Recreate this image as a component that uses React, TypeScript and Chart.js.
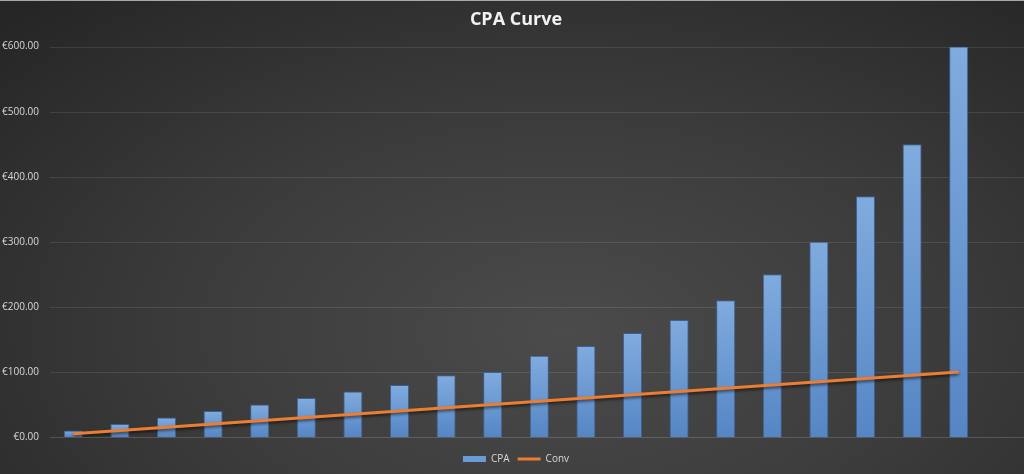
import React, { useEffect, useRef } from "react";
import { Chart, registerables } from "chart.js";

Chart.register(...registerables);

const categories = [
  "1", "2", "3", "4", "5", "6", "7", "8", "9", "10",
  "11", "12", "13", "14", "15", "16", "17", "18", "19", "20",
];
const cpaValues = [10, 20, 30, 40, 50, 60, 70, 80, 95, 100, 125, 140, 160, 180, 210, 250, 300, 370, 450, 600];
const convValues = [5, 10, 15, 20, 25, 30, 35, 40, 45, 50, 55, 60, 65, 70, 75, 80, 85, 90, 95, 100];
const yMin = 0;
const yMax = 600;
const yStep = 100;

const BLUE_TOP = "#80abde";
const BLUE_BOTTOM = "#5586c4";
const ORANGE = "#ED7D31";

// horizontal gridlines that run on to the right edge of the canvas
const gridPlugin = {
  id: "wideGrid",
  beforeDatasetsDraw(chart: any) {
    const { ctx, chartArea, scales } = chart;
    ctx.save();
    for (let v = yMin; v <= yMax; v += yStep) {
      const y = Math.round(scales.y.getPixelForValue(v)) + 0.5;
      ctx.strokeStyle = v === 0 ? "rgba(255,255,255,0.16)" : "rgba(255,255,255,0.1)";
      ctx.lineWidth = 1;
      ctx.beginPath();
      ctx.moveTo(chartArea.left, y);
      ctx.lineTo(chart.width, y);
      ctx.stroke();
    }
    ctx.restore();
  },
  beforeDatasetDraw(chart: any, args: any) {
    if (args.index === 1) {
      const ctx = chart.ctx;
      ctx.shadowColor = "rgba(0,0,0,0.55)";
      ctx.shadowBlur = 3;
      ctx.shadowOffsetY = 2;
    }
  },
  afterDatasetDraw(chart: any, args: any) {
    if (args.index === 1) {
      const ctx = chart.ctx;
      ctx.shadowColor = "transparent";
      ctx.shadowBlur = 0;
      ctx.shadowOffsetY = 0;
    }
  },
};

export default function App() {
  const canvasRef = useRef<HTMLCanvasElement>(null);
  const chartRef = useRef<Chart | null>(null);

  useEffect(() => {
    if (!canvasRef.current) return;
    chartRef.current?.destroy();

    chartRef.current = new Chart(canvasRef.current, {
      type: "bar",
      data: {
        labels: categories,
        datasets: [
          {
            type: "bar",
            label: "CPA",
            data: cpaValues,
            backgroundColor: (c: any) => {
              const chart = c.chart;
              if (!chart.chartArea || c.raw == null) return BLUE_BOTTOM;
              const top = chart.scales.y.getPixelForValue(c.raw);
              const bottom = chart.scales.y.getPixelForValue(0);
              const g = chart.ctx.createLinearGradient(0, top, 0, bottom);
              g.addColorStop(0, BLUE_TOP);
              g.addColorStop(1, BLUE_BOTTOM);
              return g;
            },
            borderColor: "rgba(60,100,160,0.9)",
            borderWidth: 1,
            categoryPercentage: 1,
            barPercentage: 0.41,
            order: 2,
          },
          {
            type: "line",
            label: "Conv",
            data: convValues,
            borderColor: ORANGE,
            backgroundColor: ORANGE,
            borderWidth: 3,
            pointRadius: 0,
            tension: 0,
            order: 1,
          },
        ],
      },
      options: {
        responsive: true,
        maintainAspectRatio: false,
        animation: false,
        layout: { padding: 0 },
        plugins: {
          title: {
            display: true,
            fullSize: false,
            text: "CPA Curve",
            color: "#f2f2f2",
            font: { family: "'Open Sans', sans-serif", size: 18, weight: "bold" },
            padding: { top: 8, bottom: 16 },
          },
          legend: {
            position: "bottom",
            fullSize: false,
            labels: {
              color: "#d9d9d9",
              font: { family: "'Open Sans', sans-serif", size: 10 },
              usePointStyle: true,
              pointStyleWidth: 23,
              boxHeight: 6,
              padding: 8,
              generateLabels: () => [
                {
                  text: "CPA",
                  fillStyle: "#6a9bd6",
                  strokeStyle: "#6a9bd6",
                  lineWidth: 0,
                  pointStyle: "rect",
                  fontColor: "#d9d9d9",
                  datasetIndex: 0,
                },
                {
                  text: "Conv",
                  fillStyle: ORANGE,
                  strokeStyle: ORANGE,
                  lineWidth: 3,
                  pointStyle: "line",
                  fontColor: "#d9d9d9",
                  datasetIndex: 1,
                },
              ],
            },
          },
          tooltip: { enabled: false },
        },
        scales: {
          x: {
            display: true,
            grid: { display: false },
            border: { display: false },
            ticks: { display: false },
            afterFit: (s: any) => {
              s.height = 9;
            },
          },
          y: {
            min: yMin,
            max: yMax,
            grid: { display: false, drawTicks: false },
            border: { display: false },
            ticks: {
              stepSize: yStep,
              padding: 11,
              color: "#d9d9d9",
              font: { family: "'Open Sans', sans-serif", size: 10 },
              callback: (v: any) => "€" + Number(v).toFixed(2),
            },
            afterFit: (s: any) => {
              s.width = 50;
            },
          },
          // empty axis that keeps the plot clear of the right edge
          yRight: {
            position: "right",
            display: true,
            grid: { display: false, drawTicks: false },
            border: { display: false },
            ticks: { display: false },
            afterFit: (s: any) => {
              s.width = 42;
            },
          },
        },
      },
      plugins: [gridPlugin],
    });

    return () => {
      chartRef.current?.destroy();
    };
  }, []);

  return (
    <div
      style={{
        position: "fixed",
        left: 0,
        top: 0,
        width: 1024,
        height: 474,
        background:
          "radial-gradient(ellipse 75% 95% at 55% 70%, #4b4b4b 0%, #3b3b3b 50%, #262626 100%)",
        borderTop: "1px solid #a8a8a8",
        boxSizing: "border-box",
      }}
    >
      <canvas ref={canvasRef} />
    </div>
  );
}
